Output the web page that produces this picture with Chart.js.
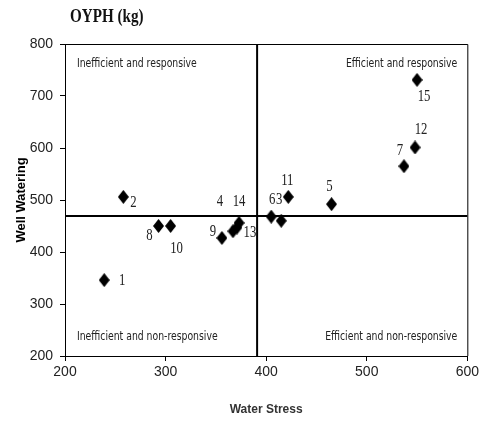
<!DOCTYPE html>
<html>
<head>
<meta charset="utf-8">
<script src="https://cdn.jsdelivr.net/npm/chart.js@4"></script>
<style>
  body { margin: 0; background: #fff; }
</style>
</head>
<body>
<canvas id="chart" width="482" height="421"></canvas>
<script>
// data
const pointIds = ['1', '2', '3', '4', '5', '6', '7', '8', '9', '10', '11', '12', '13', '14', '15'];
const waterStress = [239, 258, 415, 367, 465, 405, 537, 293, 356, 305, 422, 548, 371, 373, 550];
const wellWatering = [346, 506, 460, 440, 492, 468, 565, 450, 427, 450, 506, 601, 447, 456, 731];
const stressRange = [200, 600];
const wateringRange = [200, 800];
const meanStress = 391;
const meanWatering = 469;
const quadrantNames = ['Inefficient and responsive', 'Efficient and responsive',
                       'Inefficient and non-responsive', 'Efficient and non-responsive'];

// where each number sits next to its marker (px)
const labelOffsets = [[18, 0], [10, 6], [-2, -21], [-13, -30], [-2, -18], [1, -17], [-4, -16],
                      [-9, 10], [-9, -6], [6, 23], [-1, -16], [6, -18], [13, 5], [0, -21], [7, 17]];

const condensed = "'DejaVu Sans Condensed', sans-serif";
const arial = "'Liberation Sans', Arial, sans-serif";

// tall diamond marker
const diamond = document.createElement('canvas');
diamond.width = 11; diamond.height = 14;
const dctx = diamond.getContext('2d');
dctx.fillStyle = '#000';
dctx.beginPath();
dctx.moveTo(5.5, 0); dctx.lineTo(11, 7); dctx.lineTo(5.5, 14); dctx.lineTo(0, 7);
dctx.closePath(); dctx.fill();

function squeezedText(ctx, text, x, y, font, align, sx) {
    ctx.save();
    ctx.translate(x, y);
    ctx.scale(sx, 1);
    ctx.font = font;
    ctx.textAlign = align;
    ctx.textBaseline = 'middle';
    ctx.fillText(text, 0, 0);
    ctx.restore();
}

const extras = {
    id: 'extras',
    afterDraw(chart) {
        const { ctx, chartArea: a } = chart;
        ctx.save();
        // top and right frame
        ctx.strokeStyle = '#000';
        ctx.lineWidth = 1;
        ctx.beginPath();
        ctx.moveTo(a.left, a.top + 0.5); ctx.lineTo(a.right + 0.5, a.top + 0.5); ctx.lineTo(a.right + 0.5, a.bottom);
        ctx.stroke();

        ctx.fillStyle = '#111';
        squeezedText(ctx, 'OYPH (kg)', 70, 17, "bold 18px 'Liberation Serif', serif", 'left', 0.84);

        ctx.fillStyle = '#222';
        const qf = "12px " + condensed;
        squeezedText(ctx, quadrantNames[0], a.left + 12, a.top + 20, qf, 'left', 0.86);
        squeezedText(ctx, quadrantNames[1], a.right - 10, a.top + 20, qf, 'right', 0.86);
        squeezedText(ctx, quadrantNames[2], a.left + 12, a.bottom - 19, qf, 'left', 0.86);
        squeezedText(ctx, quadrantNames[3], a.right - 10, a.bottom - 19, qf, 'right', 0.86);

        // point numbers
        const meta = chart.getDatasetMeta(2);
        meta.data.forEach((pt, i) => {
            const [dx, dy] = labelOffsets[i];
            squeezedText(ctx, pointIds[i], pt.x + dx, pt.y + dy, "17px 'Liberation Serif', serif", 'center', 0.75);
        });
        ctx.restore();
    }
};

new Chart(document.getElementById('chart'), {
    type: 'scatter',
    data: {
        datasets: [
            {
                type: 'line',
                data: [{ x: meanStress, y: wateringRange[0] }, { x: meanStress, y: wateringRange[1] }],
                borderColor: '#000', borderWidth: 2, pointRadius: 0, clip: false
            },
            {
                type: 'line',
                data: [{ x: stressRange[0], y: meanWatering }, { x: stressRange[1], y: meanWatering }],
                borderColor: '#000', borderWidth: 2, pointRadius: 0, clip: false
            },
            {
                data: waterStress.map((x, i) => ({ x: x, y: wellWatering[i] })),
                pointStyle: diamond,
                backgroundColor: '#000'
            }
        ]
    },
    options: {
        responsive: false,
        animation: false,
        layout: { padding: { top: 44, right: 14, left: 0, bottom: 0 } },
        plugins: { legend: { display: false }, tooltip: { enabled: false } },
        scales: {
            x: {
                type: 'linear', min: stressRange[0], max: stressRange[1],
                ticks: { stepSize: 100, color: '#222', padding: 3, maxRotation: 0, font: { family: arial, size: 14 } },
                grid: { drawOnChartArea: false, tickLength: 5, color: '#000' },
                border: { color: '#000', width: 1 },
                title: { display: true, text: 'Water Stress', color: '#333', padding: { bottom: 4 },
                         font: { family: arial, size: 12, weight: 'bold' } },
                afterFit(s) { s.height = 65; }
            },
            y: {
                min: wateringRange[0], max: wateringRange[1],
                ticks: { stepSize: 100, color: '#222', padding: 7, font: { family: arial, size: 14 } },
                grid: { drawOnChartArea: false, tickLength: 5, color: '#000' },
                border: { color: '#000', width: 1 },
                title: { display: true, text: 'Well Watering', color: '#000', padding: { top: 14 },
                         font: { family: arial, size: 13, weight: 'bold' } },
                afterFit(s) { s.width = 65; }
            }
        }
    },
    plugins: [extras]
});
</script>
</body>
</html>
